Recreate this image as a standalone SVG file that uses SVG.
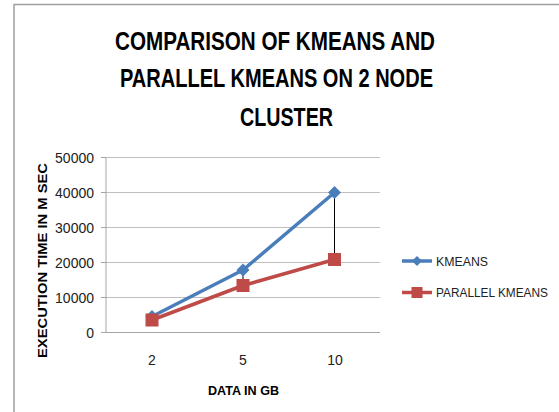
<svg xmlns="http://www.w3.org/2000/svg" width="559" height="412" viewBox="0 0 559 412">
<style>
.t{font-family:"Liberation Sans",Arial,sans-serif;fill:#000}
.title{font-size:26px;font-weight:bold}
.ax{font-size:14px;fill:#222}
.lg{font-size:12.5px;fill:#222}
.axt{font-size:13px;font-weight:bold}
.grid{stroke:#BFBFBF;stroke-width:1}
.axis{stroke:#A6A6A6;stroke-width:1}
.blue{stroke:#4A7EBB;stroke-width:3.5;fill:none;stroke-linejoin:round}
.red{stroke:#BE4B48;stroke-width:3.5;fill:none;stroke-linejoin:round}
.hl{stroke:#000;stroke-width:1}
</style>
<defs>
<path id="dia" d="M0,-6.5 L6.5,0 L0,6.5 L-6.5,0 Z" fill="#4A7EBB"/>
<rect id="sq" x="-6.5" y="-6.5" width="13" height="13" fill="#BE4B48"/>
</defs>
<rect x="0" y="0" width="559" height="412" fill="#fff"/>
<path d="M14,412 V4.5 H559" fill="none" stroke="#A0A0A0" stroke-width="1.5"/>
<g id="title">
<text class="t title" x="115" y="49.5" textLength="320" lengthAdjust="spacingAndGlyphs">COMPARISON OF KMEANS AND</text>
<text class="t title" x="120" y="87" textLength="313" lengthAdjust="spacingAndGlyphs">PARALLEL KMEANS ON 2 NODE</text>
<text class="t title" x="240" y="125.5" textLength="93" lengthAdjust="spacingAndGlyphs">CLUSTER</text>
</g>
<g id="grid">
<line class="grid" x1="106" y1="157.5" x2="380" y2="157.5"/>
<line class="grid" x1="106" y1="192.5" x2="380" y2="192.5"/>
<line class="grid" x1="106" y1="227.5" x2="380" y2="227.5"/>
<line class="grid" x1="106" y1="262.5" x2="380" y2="262.5"/>
<line class="grid" x1="106" y1="297.5" x2="380" y2="297.5"/>
</g>
<g id="axes">
<line class="axis" x1="106" y1="157.5" x2="106" y2="332.5"/>
<line class="axis" x1="101" y1="332.5" x2="380" y2="332.5"/>
<line class="axis" x1="101" y1="157.5" x2="106" y2="157.5"/>
<line class="axis" x1="101" y1="192.5" x2="106" y2="192.5"/>
<line class="axis" x1="101" y1="227.5" x2="106" y2="227.5"/>
<line class="axis" x1="101" y1="262.5" x2="106" y2="262.5"/>
<line class="axis" x1="101" y1="297.5" x2="106" y2="297.5"/>
<g class="t ax" text-anchor="end">
<text x="94" y="162.5">50000</text>
<text x="94" y="197.5">40000</text>
<text x="94" y="232.5">30000</text>
<text x="94" y="267.5">20000</text>
<text x="94" y="302.5">10000</text>
<text x="94" y="337.5">0</text>
</g>
<g class="t ax" text-anchor="middle">
<text x="152" y="365">2</text>
<text x="243" y="365">5</text>
<text x="335" y="365">10</text>
</g>
<text class="t axt" x="243.5" y="394.5" text-anchor="middle" textLength="71" lengthAdjust="spacingAndGlyphs">DATA IN GB</text>
<text class="t axt" transform="translate(47,358) rotate(-90)" x="0" y="0" textLength="195" lengthAdjust="spacingAndGlyphs">EXECUTION TIME IN M SEC</text>
</g>
<g id="connectors">
<line class="hl" x1="152" y1="316.5" x2="152" y2="320"/>
<line class="hl" x1="243" y1="270" x2="243" y2="285.5"/>
<line class="hl" x1="334.5" y1="192.5" x2="334.5" y2="259.5"/>
</g>
<g id="series-kmeans">
<polyline class="blue" points="152,316.5 243,270 334.5,192.5"/>
<use href="#dia" x="152" y="316.5"/>
<use href="#dia" x="243" y="270"/>
<use href="#dia" x="334.5" y="192.5"/>
</g>
<g id="series-parallel">
<polyline class="red" points="152,320 243,285.5 334.5,259.5"/>
<use href="#sq" x="152" y="320"/>
<use href="#sq" x="243" y="285.5"/>
<use href="#sq" x="334.5" y="259.5"/>
</g>
<g id="legend">
<line class="blue" x1="402" y1="261" x2="432" y2="261"/>
<path d="M417,256 L422,261 L417,266 L412,261 Z" fill="#4A7EBB"/>
<text class="t lg" x="436" y="265.5" textLength="52" lengthAdjust="spacingAndGlyphs">KMEANS</text>
<line class="red" x1="402" y1="292.5" x2="432" y2="292.5"/>
<rect x="411.5" y="287" width="11" height="11" fill="#BE4B48"/>
<text class="t lg" x="436" y="297" textLength="112" lengthAdjust="spacingAndGlyphs">PARALLEL KMEANS</text>
</g>
</svg>
